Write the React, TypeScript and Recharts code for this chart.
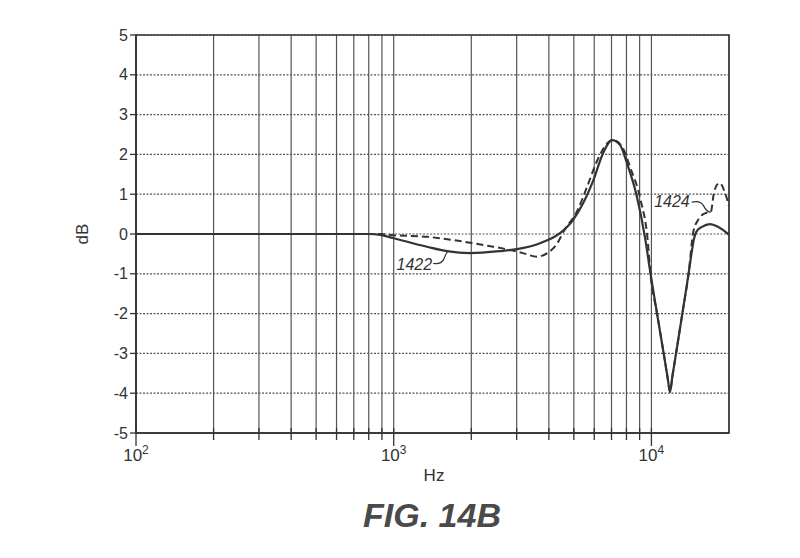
import React from "react";
import {
  LineChart,
  Line,
  XAxis,
  YAxis,
  CartesianGrid,
  ReferenceArea,
  ReferenceDot,
} from "recharts";

// frequency (Hz) / level (dB)
const freq1422 = [
  100, 800, 886, 993, 1346, 1610, 1978, 2585, 3008, 3696, 4418, 4962, 5430, 5960,
  6490, 7030, 7550, 8035, 8790, 9450, 9910, 10510, 11150, 11550, 11810, 12045,
  12470, 13190, 13950, 14300, 14630, 14950, 15710, 16870, 18120, 20000,
];
const db1422 = [
  0, 0, -0.02, -0.1, -0.32, -0.43, -0.48, -0.43, -0.38, -0.23, 0.02, 0.35, 0.77, 1.36,
  2.03, 2.36, 2.24, 1.78, 0.93, -0.1, -0.98, -1.99, -2.99, -3.6, -3.97, -3.6,
  -2.99, -1.99, -0.98, -0.5, -0.12, 0.06, 0.18, 0.25, 0.18, -0.02,
];

const freq1424 = [
  100, 886, 993, 1346, 1695, 1978, 2434, 2825, 3176, 3598, 3943, 4317, 4560, 5170,
  5623, 6175, 6770, 7135, 7740, 8290, 9080, 9670, 9910, 10510, 11150, 11550, 11810,
  12045, 12470, 13190, 13950, 14530, 15170, 16110, 16990, 17450, 17920,
  18400, 19250, 20000,
];
const db1424 = [
  0, 0, -0.03, -0.07, -0.15, -0.22, -0.32, -0.4, -0.48, -0.57, -0.48, -0.23, 0.06, 0.6,
  1.18, 1.86, 2.29, 2.36, 2.16, 1.66, 0.85, -0.15, -0.98, -1.99, -2.99, -3.6, -3.97,
  -3.6, -2.99, -1.99, -0.98, 0.05, 0.35, 0.52, 0.55, 1.0, 1.23, 1.28, 1.06, 0.7,
];

const xTicks = [
  100, 200, 300, 400, 500, 600, 700, 800, 900, 1000, 2000, 3000, 4000, 5000, 6000,
  7000, 8000, 9000, 10000, 20000,
];
const decades = [100, 1000, 10000];
const yTicks = [-5, -4, -3, -2, -1, 0, 1, 2, 3, 4, 5];

const data1422 = freq1422.map((f, i) => ({ f, db: db1422[i] }));
const data1424 = freq1424.map((f, i) => ({ f, db: db1424[i] }));

const FONT = "'Liberation Sans', Arial, sans-serif";
const INK = "#333";

function XTick(props: any) {
  const { x, y, payload } = props;
  const v = payload.value as number;
  const major = decades.includes(v);
  if (v === 20000) return null;
  return (
    <g>
      <line x1={x} x2={x} y1={y - 5} y2={y + (major ? 13 : 7)} stroke={INK} strokeWidth={1.3} />
      {major && (
        <text x={x} y={y + 28} textAnchor="middle" fontSize={17} fill={INK} fontFamily={FONT}>
          <tspan>10</tspan>
          <tspan dy={-7} fontSize={12}>
            {Math.round(Math.log10(v))}
          </tspan>
        </text>
      )}
    </g>
  );
}

function Callout(props: any) {
  const { cx, cy, label, side } = props;
  if (side === "below") {
    return (
      <g>
        <path
          d={`M ${cx - 15} ${cy + 12} Q ${cx - 6} ${cy + 13} ${cx - 4} ${cy + 7} T ${cx} ${cy}`}
          fill="none"
          stroke={INK}
          strokeWidth={1.2}
        />
        <text x={cx - 16} y={cy + 18} textAnchor="end" fontSize={16} fontStyle="italic" fill={INK} fontFamily={FONT}>
          {label}
        </text>
      </g>
    );
  }
  return (
    <g>
      <path
        d={`M ${cx - 19} ${cy - 10} Q ${cx - 10} ${cy - 12} ${cx - 7} ${cy - 6} T ${cx} ${cy}`}
        fill="none"
        stroke={INK}
        strokeWidth={1.2}
      />
      <text x={cx - 21} y={cy - 5} textAnchor="end" fontSize={16} fontStyle="italic" fill={INK} fontFamily={FONT}>
        {label}
      </text>
    </g>
  );
}

export default function App() {
  return (
    <div style={{ position: "relative", width: 800, height: 558, margin: "-8px 0 0 -8px", background: "#fff" }}>
      <LineChart
        width={800}
        height={558}
        margin={{ top: 35, right: 71, left: 76, bottom: 75 }}
      >
        <CartesianGrid horizontal={false} stroke="#555" strokeWidth={1.2} />
        <CartesianGrid vertical={false} stroke="#555" strokeDasharray="2 1.5" strokeWidth={1.2} />
        <XAxis
          dataKey="f"
          type="number"
          scale="log"
          domain={[100, 20000]}
          ticks={xTicks}
          interval={0}
          allowDataOverflow
          height={50}
          tickLine={false}
          tickSize={0}
          tickMargin={0}
          tick={<XTick />}
          axisLine={{ stroke: INK, strokeWidth: 1.5 }}
        />
        <YAxis
          type="number"
          domain={[-5, 5]}
          ticks={yTicks}
          interval={0}
          allowDataOverflow
          width={60}
          tickSize={6}
          tickMargin={2}
          tickLine={{ stroke: INK, strokeWidth: 1.3 }}
          axisLine={{ stroke: INK, strokeWidth: 1.5 }}
          tick={{ fontSize: 16, fill: INK, fontFamily: FONT }}
        />
        <ReferenceArea
          x1={100}
          x2={20000}
          y1={-5}
          y2={5}
          fill="none"
          stroke={INK}
          strokeWidth={1.5}
          ifOverflow="visible"
        />
        <Line
          data={data1422}
          dataKey="db"
          type="monotone"
          stroke={INK}
          strokeWidth={2.2}
          dot={false}
          isAnimationActive={false}
        />
        <Line
          data={data1424}
          dataKey="db"
          type="monotone"
          stroke={INK}
          strokeWidth={2}
          strokeDasharray="7 4"
          dot={false}
          isAnimationActive={false}
        />
        <ReferenceDot
          x={1626}
          y={-0.44}
          r={3}
          ifOverflow="visible"
          shape={(p: any) => <Callout {...p} label="1422" side="below" />}
        />
        <ReferenceDot
          x={16990}
          y={0.55}
          r={3}
          ifOverflow="visible"
          shape={(p: any) => <Callout {...p} label="1424" side="above" />}
        />
      </LineChart>
      <svg
        width={800}
        height={558}
        style={{ position: "absolute", left: 0, top: 0, pointerEvents: "none" }}
      >
        <text x={434} y={481} textAnchor="middle" fontSize={17} fill={INK} fontFamily={FONT}>
          Hz
        </text>
        <text
          x={88}
          y={234}
          textAnchor="middle"
          fontSize={17}
          fill={INK}
          fontFamily={FONT}
          transform="rotate(-90 88 234)"
        >
          dB
        </text>
        <text
          x={432}
          y={527}
          textAnchor="middle"
          fontSize={34}
          fontWeight="bold"
          fontStyle="italic"
          fill="#4a4a4a"
          fontFamily={FONT}
        >
          FIG. 14B
        </text>
      </svg>
    </div>
  );
}
